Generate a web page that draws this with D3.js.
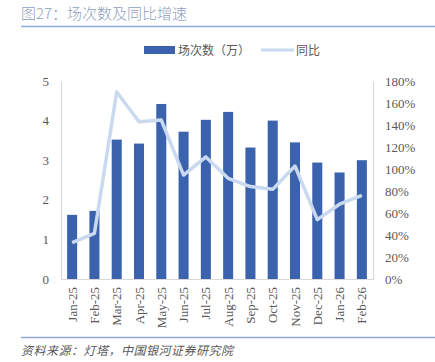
<!DOCTYPE html>
<html>
<head>
<meta charset="utf-8">
<script src="https://cdn.jsdelivr.net/npm/d3@7"></script>
<style>
  body { margin: 0; background: #fff; }
  svg { display: block; }
</style>
</head>
<body>
<div id="chart_viz"></div>
<script>
// chart data
var months = ["Jan-25", "Feb-25", "Mar-25", "Apr-25", "May-25", "Jun-25", "Jul-25",
              "Aug-25", "Sep-25", "Oct-25", "Nov-25", "Dec-25", "Jan-26", "Feb-26"];
var sessions = [1.62, 1.72, 3.52, 3.42, 4.42, 3.72, 4.02, 4.22, 3.32, 4.0, 3.45, 2.94, 2.69, 3.0];
var yoy = [33, 41.5, 170, 143, 144.5, 94.5, 111, 91.5, 84, 81.5, 102.7, 54, 68, 76];
var leftTicks = [0, 1, 2, 3, 4, 5];
var rightTicks = [0, 20, 40, 60, 80, 100, 120, 140, 160, 180];

var width = 435,
    height = 362,
    margin = {top: 81, right: 62, bottom: 83, left: 61};
var plotW = width - margin.left - margin.right,
    plotH = height - margin.top - margin.bottom;

var barColor = "#3a62ad",
    lineColor = "#c9d9f0",
    axisColor = "#d9d9d9",
    textColor = "#595959";

var svg = d3.select("#chart_viz")
  .append("svg")
    .attr("width", width)
    .attr("height", height);

// title + rules
svg.append("text")
  .attr("x", 21).attr("y", 19)
  .style("font-family", "'Noto Sans CJK SC', sans-serif")
  .style("font-size", "15px")
  .style("font-weight", 300)
  .style("fill", "#8ea0bd")
  .text("图27：场次数及同比增速");
svg.append("line")
  .attr("x1", 21).attr("x2", width).attr("y1", 26.5).attr("y2", 26.5)
  .attr("stroke", "#8faadc").attr("stroke-width", 1.5);
svg.append("line")
  .attr("x1", 21).attr("x2", width).attr("y1", 337.5).attr("y2", 337.5)
  .attr("stroke", "#8faadc").attr("stroke-width", 1.5);
svg.append("text")
  .attr("x", 21).attr("y", 355)
  .style("font-family", "'Noto Sans CJK SC', sans-serif")
  .style("font-size", "12px")
  .style("font-style", "italic")
  .style("letter-spacing", "0.5px")
  .style("fill", textColor)
  .text("资料来源：灯塔，中国银河证券研究院");

// legend
var legend = svg.append("g");
legend.append("rect")
  .attr("x", 144).attr("y", 46).attr("width", 31).attr("height", 8)
  .attr("fill", barColor);
legend.append("text")
  .attr("x", 178).attr("y", 55)
  .style("font-family", "'Noto Sans CJK SC', sans-serif")
  .style("font-size", "12px").style("fill", textColor)
  .text("场次数（万）");
legend.append("line")
  .attr("x1", 261).attr("x2", 294).attr("y1", 50).attr("y2", 50)
  .attr("stroke", lineColor).attr("stroke-width", 3);
legend.append("text")
  .attr("x", 296).attr("y", 55)
  .style("font-family", "'Noto Sans CJK SC', sans-serif")
  .style("font-size", "12px").style("fill", textColor)
  .text("同比");

var g = svg.append("g")
  .attr("transform", "translate(" + margin.left + "," + margin.top + ")");

// scales
var x = d3.scaleBand()
  .domain(months)
  .range([0, plotW])
  .paddingInner(0.55)
  .paddingOuter(0.275);
var yL = d3.scaleLinear().domain([0, 5]).range([plotH, 0]);
var yR = d3.scaleLinear().domain([0, 180]).range([plotH, 0]);

// bars
g.selectAll("rect.bar")
  .data(sessions)
  .enter()
  .append("rect")
    .attr("class", "bar")
    .attr("x", function(d, i) { return x(months[i]); })
    .attr("width", x.bandwidth())
    .attr("y", function(d) { return yL(d); })
    .attr("height", function(d) { return plotH - yL(d); })
    .attr("fill", barColor);

// yoy line
var line = d3.line()
  .x(function(d, i) { return x(months[i]) + x.bandwidth() / 2; })
  .y(function(d) { return yR(d); });
g.append("path")
  .datum(yoy)
  .attr("d", line)
  .attr("fill", "none")
  .attr("stroke", lineColor)
  .attr("stroke-width", 3.5)
  .attr("stroke-linejoin", "round");

// axes
var axisL = g.append("g")
  .call(d3.axisLeft(yL).tickValues(leftTicks).tickSize(0).tickPadding(12)
    .tickFormat(d3.format("d")));
var axisR = g.append("g")
  .attr("transform", "translate(" + plotW + ",0)")
  .call(d3.axisRight(yR).tickValues(rightTicks).tickSize(0).tickPadding(12)
    .tickFormat(function(d) { return d + "%"; }));
var axisB = g.append("g")
  .attr("transform", "translate(0," + plotH + ")")
  .call(d3.axisBottom(x).tickSize(0).tickPadding(8));

[axisL, axisR, axisB].forEach(function(a) {
  a.select(".domain").attr("stroke", axisColor).attr("stroke-width", 1.2);
  a.selectAll("text")
    .style("font-family", "'Liberation Serif', 'Times New Roman', serif")
    .style("font-size", "13px")
    .style("fill", textColor);
});
axisB.selectAll("text")
  .attr("transform", "rotate(-90)")
  .attr("x", -8)
  .attr("y", 0)
  .attr("dy", "0.35em")
  .style("text-anchor", "end");
</script>
</body>
</html>
